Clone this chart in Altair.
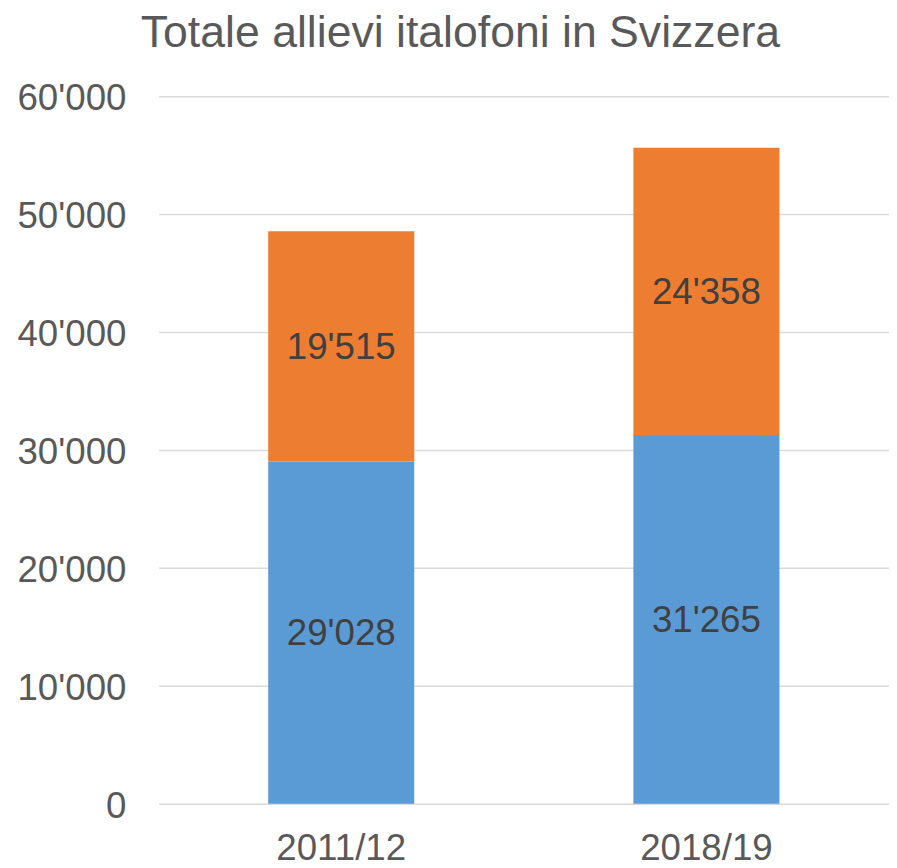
import altair as alt
import pandas as pd

years = ["2011/12", "2011/12", "2018/19", "2018/19"]
series = ["Serie 1", "Serie 2", "Serie 1", "Serie 2"]
order = [1, 2, 1, 2]
values = [29028, 19515, 31265, 24358]
colors = ["#5B9BD5", "#ED7D31"]
y_ticks = [0, 10000, 20000, 30000, 40000, 50000, 60000]

df = pd.DataFrame({"anno": years, "serie": series, "ordine": order, "valore": values})

FONT = "Liberation Sans"
fmt = "replace(format(datum.value, ','), ',', \"'\")"

x_enc = alt.X(
    "anno:N",
    sort=["2011/12", "2018/19"],
    scale=alt.Scale(paddingInner=0.6, paddingOuter=0.3),
    axis=alt.Axis(
        title=None, labelAngle=0, labelFontSize=37, labelColor="#595959",
        labelFont=FONT, ticks=False, domain=False, labelPadding=27, grid=False,
    ),
)

y_scale = alt.Scale(domain=[0, 60000], nice=False)

bars = alt.Chart(df).mark_bar().encode(
    x=x_enc,
    y=alt.Y(
        "valore:Q", stack="zero", scale=y_scale,
        axis=alt.Axis(
            title=None, values=y_ticks, labelExpr=fmt, labelFontSize=37,
            labelColor="#595959", labelFont=FONT, ticks=False, tickSize=0,
            domain=False, labelPadding=33, labelOffset=2.5,
            grid=True, gridColor="#d9d9d9", gridWidth=1.5,
        ),
    ),
    color=alt.Color("serie:N", scale=alt.Scale(domain=["Serie 1", "Serie 2"], range=colors), legend=None),
    order=alt.Order("ordine:Q"),
)

labels = alt.Chart(df).transform_stack(
    stack="valore", groupby=["anno"], as_=["y0", "y1"], sort=[alt.SortField("ordine")]
).transform_calculate(
    mid="(datum.y0 + datum.y1) / 2",
    etichetta="replace(format(datum.valore, ','), ',', \"'\")",
).mark_text(
    font=FONT, fontSize=37, color="#404040", baseline="middle", dy=2
).encode(
    x=alt.X("anno:N", sort=["2011/12", "2018/19"]),
    y=alt.Y("mid:Q", scale=y_scale),
    text="etichetta:N",
)

chart = alt.layer(bars, labels).properties(
    width=737,
    height=714,
    padding={"left": 152, "top": 85, "right": 0, "bottom": 70},
    autosize=alt.AutoSizeParams(type="none"),
    title=alt.TitleParams(
        "Totale allievi italofoni in Svizzera", font=FONT, fontSize=45,
        fontWeight="normal", color="#595959", anchor="start", frame="group",
        dx=-18, dy=-20,
    ),
).configure_view(stroke=None)

chart.save("out.html", embed_options={"renderer": "svg", "actions": False})
